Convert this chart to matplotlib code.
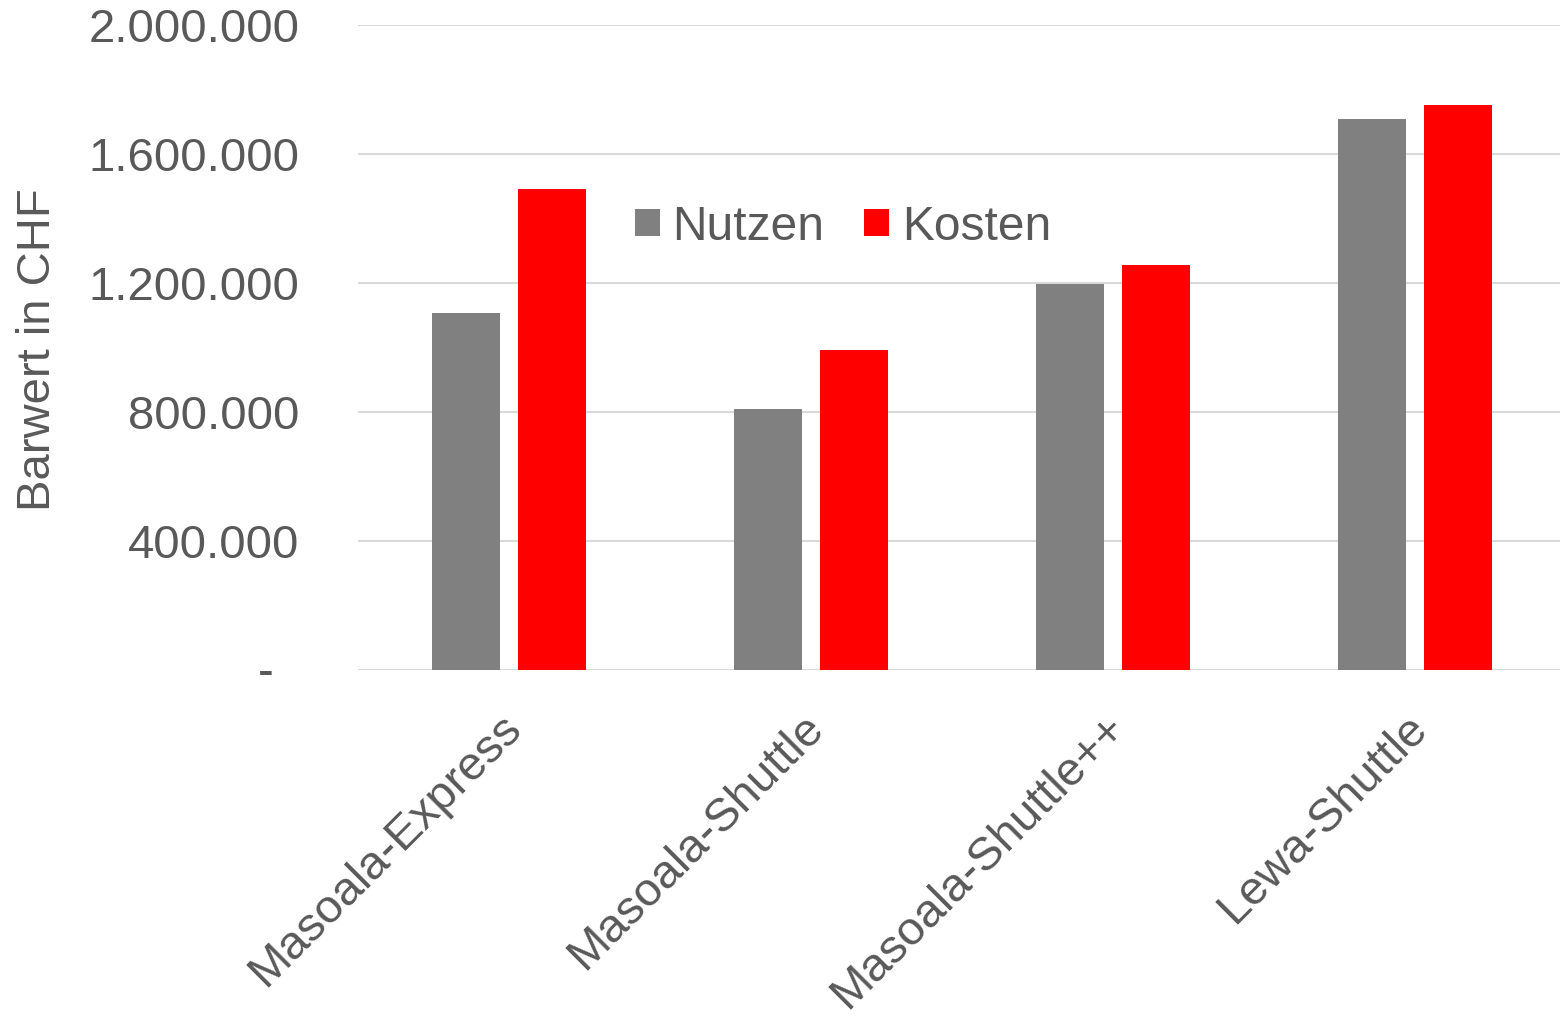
import matplotlib
matplotlib.use("Agg")
import matplotlib.pyplot as plt
import matplotlib.transforms as mtransforms
import numpy as np
from matplotlib.ticker import FixedLocator, FuncFormatter

plt.rcParams['font.family'] = ['Liberation Sans', 'DejaVu Sans']

categories = ["Masoala-Express", "Masoala-Shuttle", "Masoala-Shuttle++", "Lewa-Shuttle"]
nutzen = [1107000, 809000, 1197000, 1708000]
kosten = [1492000, 992000, 1255000, 1752000]
series_names = ["Nutzen", "Kosten"]
yticks = [0, 400000, 800000, 1200000, 1600000, 2000000]

text_color = "#595959"
W, H = 1560, 1018
fig = plt.figure(figsize=(15.6, 10.18), dpi=100)
ax = fig.add_axes([358 / W, 1 - 669.5 / H, 1208 / W, (669.5 - 25) / H])

x = np.arange(len(categories))
w = 0.222
off = 0.1424
ax.bar(x - off, nutzen, width=w, color="#808080", label=series_names[0], zorder=3)
ax.bar(x + off, kosten, width=w, color="#ff0000", label=series_names[1], zorder=3)

ax.set_xlim(-0.5, 3.5)
ax.set_ylim(0, 2000000)
ax.yaxis.set_major_locator(FixedLocator(yticks))

def fmt(v, pos):
    if v == 0:
        return "-  "
    return f"{int(v):,}".replace(",", ".")

ax.yaxis.set_major_formatter(FuncFormatter(fmt))
ax.grid(axis='y', color="#d9d9d9", linewidth=1.5, zorder=0)
for s in ax.spines.values():
    s.set_visible(False)
ax.tick_params(axis='both', length=0, labelsize=34, labelcolor=text_color)
ax.tick_params(axis='y', pad=42)
ax.set_xticks(x)
ax.set_xticklabels(categories, rotation=45, ha='right', rotation_mode='anchor', fontsize=34, color=text_color)
ax.tick_params(axis='x', pad=22)
shift = mtransforms.ScaledTranslation(-10 / 100, -6 / 100, fig.dpi_scale_trans)
for lbl in ax.get_xticklabels():
    lbl.set_transform(lbl.get_transform() + shift)

fig.text(38 / W, 1 - 350 / H, "Barwert in CHF", rotation=90, ha='center', va='center',
         fontsize=34, color=text_color)

leg = fig.legend(loc='center', bbox_to_anchor=(843 / W, 1 - 227 / H), ncol=2, frameon=False,
                 fontsize=34.5, handlelength=0.52, handleheight=0.52, handletextpad=0.27,
                 columnspacing=0.83, labelcolor=text_color, borderpad=0.2)

fig.savefig("out.png", dpi=100)
